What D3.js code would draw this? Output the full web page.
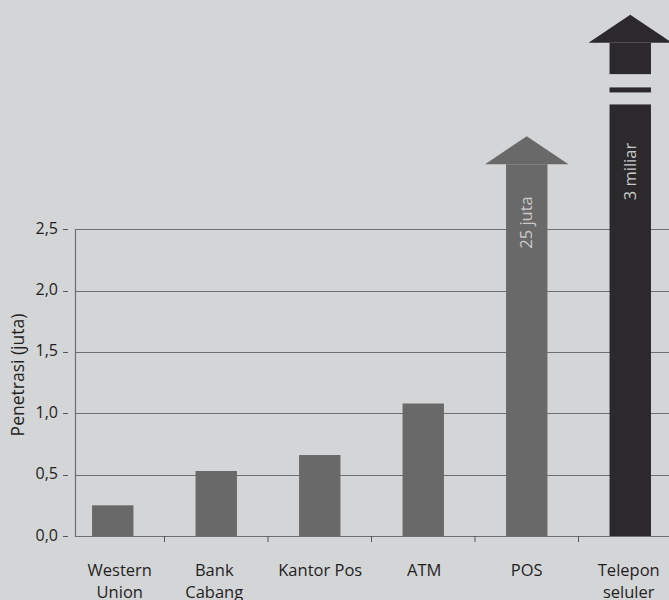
<!DOCTYPE html>
<html>
<head>
<meta charset="utf-8">
<script src="https://cdn.jsdelivr.net/npm/d3@7"></script>
<style>
  body { margin: 0; background: #d4d5d7; }
  text { font-family: "Open Sans", sans-serif; fill: #1f1f1f; }
</style>
</head>
<body>
<div class="chart"></div>
<script>
// categories (multi-line labels)
var categories = ["Western Union", "Bank Cabang", "Kantor Pos", "ATM", "POS", "Telepon seluler"];
var labelLines = [["Western", "Union"], ["Bank", "Cabang"], ["Kantor Pos"], ["ATM"], ["POS"], ["Telepon", "seluler"]];
// penetration in million; the last two are off the scale, drawn as arrows cut at this height
var values = [0.25, 0.53, 0.66, 1.08, 3.03, 4.02];
var arrowLabels = [null, null, null, null, "25 juta", "3 miliar"];
var yTicks = [0, 0.5, 1.0, 1.5, 2.0, 2.5];
var yTickLabels = ["0,0", "0,5", "1,0", "1,5", "2,0", "2,5"];

var svgWidth = 669, svgHeight = 600;

var svg = d3.select(".chart").append("svg")
  .attr("width", svgWidth)
  .attr("height", svgHeight);

svg.append("rect").attr("width", svgWidth).attr("height", svgHeight).attr("fill", "#d4d5d7");

var xScale = d3.scaleBand()
  .domain(categories)
  .range([61, 682])
  .paddingInner(0.6)
  .paddingOuter(0.3);

var yScale = d3.scaleLinear()
  .domain([0, 2.5])
  .range([536, 229.3]);

var axisX = 75;
var step = xScale.step();
var gap = step - xScale.bandwidth();

// gridlines
svg.append("g").selectAll("line")
  .data(yTicks)
  .enter().append("line")
  .attr("x1", axisX).attr("x2", svgWidth)
  .attr("y1", d => Math.round(yScale(d)) + 0.5)
  .attr("y2", d => Math.round(yScale(d)) + 0.5)
  .attr("stroke", "#6f6f6f").attr("stroke-width", 1.2);

// left axis line
svg.append("line")
  .attr("x1", axisX + 0.5).attr("x2", axisX + 0.5)
  .attr("y1", yScale(2.5)).attr("y2", yScale(0) + 1)
  .attr("stroke", "#6f6f6f").attr("stroke-width", 1.2);

// y ticks + labels
var yt = svg.append("g");
yt.selectAll("line")
  .data(yTicks)
  .enter().append("line")
  .attr("x1", 63).attr("x2", 68)
  .attr("y1", d => Math.round(yScale(d)) + 0.5)
  .attr("y2", d => Math.round(yScale(d)) + 0.5)
  .attr("stroke", "#555");
yt.selectAll("text")
  .data(yTicks)
  .enter().append("text")
  .attr("x", 58)
  .attr("y", d => yScale(d) - 1.5)
  .attr("text-anchor", "end")
  .attr("dominant-baseline", "central")
  .style("font-size", "16px")
  .text((d, i) => yTickLabels[i]);

// y title
svg.append("text")
  .attr("transform", "translate(24, 375) rotate(-90)")
  .attr("text-anchor", "middle")
  .style("font-size", "17.5px")
  .text("Penetrasi (juta)");

// x ticks between categories
svg.append("g").selectAll("line")
  .data(categories.slice(1))
  .enter().append("line")
  .attr("x1", d => xScale(d) - gap / 2)
  .attr("x2", d => xScale(d) - gap / 2)
  .attr("y1", 536).attr("y2", 542)
  .attr("stroke", "#555");

// x labels (small nudges as in the original layout)
var labelShift = [7, -2, 0.5, 1, 0, -1.5];
var xl = svg.append("g").selectAll("text")
  .data(categories)
  .enter().append("text")
  .attr("text-anchor", "middle")
  .style("font-size", "16.5px");
xl.each(function (d, i) {
  var t = d3.select(this);
  labelLines[i].forEach(function (line, j) {
    t.append("tspan")
      .attr("x", xScale(d) + xScale.bandwidth() / 2 + labelShift[i])
      .attr("y", 576 + j * 21.5)
      .text(line);
  });
});

// bars
var barColor = (d, i) => i === categories.length - 1 ? "#2b292b" : "#696969";
var bars = svg.append("g");
bars.selectAll("rect")
  .data(values)
  .enter().append("rect")
  .attr("x", (d, i) => xScale(categories[i]))
  .attr("y", d => yScale(d))
  .attr("width", xScale.bandwidth())
  .attr("height", d => yScale(0) - yScale(d))
  .attr("fill", barColor);

// arrow heads for off-scale bars
var headH = 28, headOver = 21;
values.forEach(function (v, i) {
  if (!arrowLabels[i]) return;
  var x0 = xScale(categories[i]), w = xScale.bandwidth(), top = yScale(v);
  svg.append("path")
    .attr("d", `M${x0 - headOver},${top} L${x0 + w / 2},${top - headH} L${x0 + w + headOver},${top} Z`)
    .attr("fill", barColor(v, i));
});

// break marks on the last arrow
(function () {
  var i = categories.length - 1;
  var x0 = xScale(categories[i]), w = xScale.bandwidth(), top = yScale(values[i]);
  [[31.3, 44.6], [49.6, 61.6]].forEach(function (g) {
    svg.append("rect")
      .attr("x", x0 - 1).attr("width", w + 2)
      .attr("y", top + g[0]).attr("height", g[1] - g[0])
      .attr("fill", "#d4d5d7");
  });
})();

// arrow value labels
var labelOffsets = [0, 0, 0, 0, 32, 100];
values.forEach(function (v, i) {
  if (!arrowLabels[i]) return;
  var cx = xScale(categories[i]) + xScale.bandwidth() / 2;
  svg.append("text")
    .attr("transform", `translate(${cx + 5.5}, ${yScale(v) + labelOffsets[i]}) rotate(-90)`)
    .attr("text-anchor", "end")
    .style("font-size", "16.5px")
    .style("fill", "#c9c9c9")
    .text(arrowLabels[i]);
});
</script>
</body>
</html>
